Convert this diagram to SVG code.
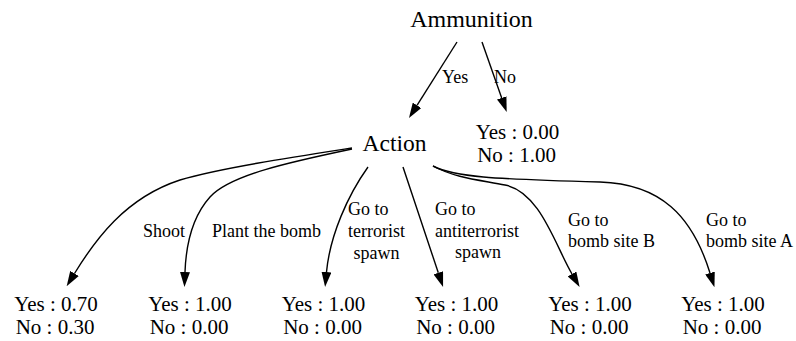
<svg xmlns="http://www.w3.org/2000/svg" width="796" height="341" viewBox="0 0 796 341">
<defs>
<marker id="arr" markerWidth="15" markerHeight="10" refX="0" refY="5" orient="auto" markerUnits="userSpaceOnUse">
<path d="M0,0 L15,5 L0,10 z" fill="#000"/>
</marker>
</defs>
<rect width="796" height="341" fill="#fff"/>
<g id="connectors" fill="none" stroke="#000" stroke-width="1.4">
<path marker-end="url(#arr)" d="M457,42 L417,105.3"/>
<path marker-end="url(#arr)" d="M482,42 L501.7,97.9"/>
<path marker-end="url(#arr)" d="M352,148 C300,156 220,168 180,180 C125,198 95,240 74.5,273.5"/>
<path marker-end="url(#arr)" d="M352,149 C290,162 230,175 210,197 C192,217 186,245 185,272"/>
<path marker-end="url(#arr)" d="M368,167 C348,195 330,235 326.5,272"/>
<path marker-end="url(#arr)" d="M403,167 L438.3,272.8"/>
<path marker-end="url(#arr)" d="M433,166 C455,178 480,180 505,185 C540,192 555,245 572,274"/>
<path marker-end="url(#arr)" d="M433,166 C455,177 490,179 600,182 C660,184 692,215 710,273"/>
</g>
<g id="edge-labels" fill="#000" stroke="none">
<text font-family="Liberation Serif" font-size="18" x="442" y="83">Yes</text>
<text font-family="Liberation Serif" font-size="18" x="494" y="83">No</text>
<text font-family="Liberation Serif" font-size="18" x="143" y="237">Shoot</text>
<text font-family="Liberation Serif" font-size="18" x="212" y="237">Plant the bomb</text>
<text font-family="Liberation Serif" font-size="18" x="348" y="215">Go to</text>
<text font-family="Liberation Serif" font-size="18" x="348" y="237">terrorist</text>
<text font-family="Liberation Serif" font-size="18" x="376.5" y="259" text-anchor="middle">spawn</text>
<text font-family="Liberation Serif" font-size="18" x="435" y="215">Go to</text>
<text font-family="Liberation Serif" font-size="18" x="435" y="237">antiterrorist</text>
<text font-family="Liberation Serif" font-size="18" x="478" y="258" text-anchor="middle">spawn</text>
<text font-family="Liberation Serif" font-size="18" x="568" y="226">Go to</text>
<text font-family="Liberation Serif" font-size="18" x="568" y="247">bomb site B</text>
<text font-family="Liberation Serif" font-size="18" x="706" y="226">Go to</text>
<text font-family="Liberation Serif" font-size="18" x="706" y="247">bomb site A</text>
</g>
<g id="ammunition"><text font-family="Liberation Serif" font-size="24" text-anchor="middle" x="471.5" y="27">Ammunition</text></g>
<g id="action"><text font-family="Liberation Serif" font-size="23.5" text-anchor="middle" x="394.5" y="151">Action</text></g>
<g id="leaf-no" font-size="21" text-anchor="middle"><text font-family="Liberation Serif" x="517.5" y="139">Yes : 0.00</text><text font-family="Liberation Serif" x="516.5" y="162">No : 1.00</text></g>
<g id="leaf-shoot" font-size="21" text-anchor="middle"><text font-family="Liberation Serif" x="56" y="311">Yes : 0.70</text><text font-family="Liberation Serif" x="55" y="334">No : 0.30</text></g>
<g id="leaf-plant" font-size="21" text-anchor="middle"><text font-family="Liberation Serif" x="190" y="311">Yes : 1.00</text><text font-family="Liberation Serif" x="189" y="334">No : 0.00</text></g>
<g id="leaf-terrorist" font-size="21" text-anchor="middle"><text font-family="Liberation Serif" x="323.5" y="311">Yes : 1.00</text><text font-family="Liberation Serif" x="322.5" y="334">No : 0.00</text></g>
<g id="leaf-antiterrorist" font-size="21" text-anchor="middle"><text font-family="Liberation Serif" x="456.5" y="311">Yes : 1.00</text><text font-family="Liberation Serif" x="455.5" y="334">No : 0.00</text></g>
<g id="leaf-siteB" font-size="21" text-anchor="middle"><text font-family="Liberation Serif" x="590" y="311">Yes : 1.00</text><text font-family="Liberation Serif" x="589" y="334">No : 0.00</text></g>
<g id="leaf-siteA" font-size="21" text-anchor="middle"><text font-family="Liberation Serif" x="723" y="311">Yes : 1.00</text><text font-family="Liberation Serif" x="722" y="334">No : 0.00</text></g>
</svg>
